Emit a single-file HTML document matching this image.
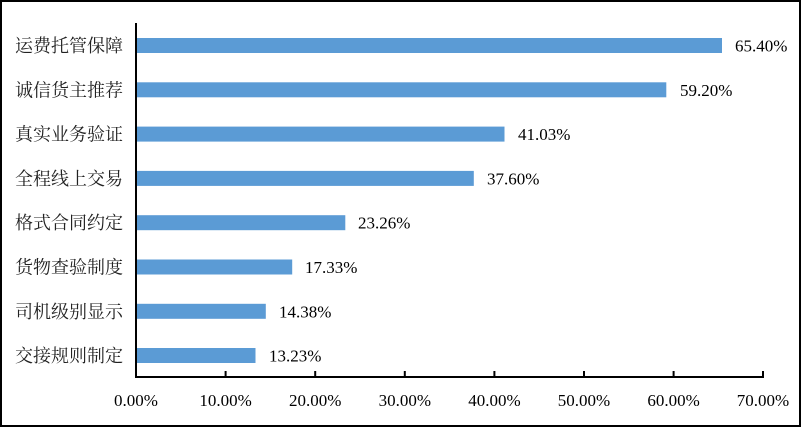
<!DOCTYPE html>
<html><head><meta charset="utf-8"><style>
html,body{margin:0;padding:0;background:#fff;}
svg{display:block;}
.l{font-family:"Liberation Serif","Noto Serif CJK SC",serif;font-size:18px;fill:#222;}
.v{font-family:"Liberation Serif",serif;font-size:17px;fill:#000;}
</style></head><body>
<svg width="801" height="427" xmlns="http://www.w3.org/2000/svg">
<rect x="1" y="1" width="799" height="425" fill="#fff" stroke="#000" stroke-width="2"/>
<g fill="#5b9bd5">
<rect x="137" y="38" width="585" height="15"/>
<rect x="137" y="82.3" width="529.3" height="15"/>
<rect x="137" y="126.6" width="367.5" height="15"/>
<rect x="137" y="170.9" width="336.8" height="15"/>
<rect x="137" y="215.2" width="208.3" height="15"/>
<rect x="137" y="259.5" width="155.2" height="15"/>
<rect x="137" y="303.8" width="128.8" height="15"/>
<rect x="137" y="348" width="118.5" height="15"/>
</g>
<g stroke="#000" stroke-width="2">
<line x1="136" y1="23" x2="136" y2="377"/>
<line x1="135" y1="377" x2="764" y2="377"/>
<line x1="225.6" y1="377" x2="225.6" y2="371"/>
<line x1="315.2" y1="377" x2="315.2" y2="371"/>
<line x1="404.8" y1="377" x2="404.8" y2="371"/>
<line x1="494.4" y1="377" x2="494.4" y2="371"/>
<line x1="584" y1="377" x2="584" y2="371"/>
<line x1="673.6" y1="377" x2="673.6" y2="371"/>
<line x1="763" y1="377" x2="763" y2="371"/>
</g>
<g class="l" text-anchor="end">
<text x="123" y="52">运费托管保障</text>
<text x="123" y="96.3">诚信货主推荐</text>
<text x="123" y="140.6">真实业务验证</text>
<text x="123" y="184.9">全程线上交易</text>
<text x="123" y="229.2">格式合同约定</text>
<text x="123" y="273.5">货物查验制度</text>
<text x="123" y="317.8">司机级别显示</text>
<text x="123" y="362">交接规则制定</text>
</g>
<g class="v">
<text x="735" y="51.5">65.40%</text>
<text x="680" y="95.8">59.20%</text>
<text x="518" y="140.1">41.03%</text>
<text x="487" y="184.4">37.60%</text>
<text x="358" y="228.7">23.26%</text>
<text x="305" y="273">17.33%</text>
<text x="279" y="317.3">14.38%</text>
<text x="269" y="361.5">13.23%</text>
</g>
<g class="v" text-anchor="middle">
<text x="136" y="406">0.00%</text>
<text x="225.6" y="406">10.00%</text>
<text x="315.2" y="406">20.00%</text>
<text x="404.8" y="406">30.00%</text>
<text x="494.4" y="406">40.00%</text>
<text x="584" y="406">50.00%</text>
<text x="673.6" y="406">60.00%</text>
<text x="763" y="406">70.00%</text>
</g>
</svg>
</body></html>
